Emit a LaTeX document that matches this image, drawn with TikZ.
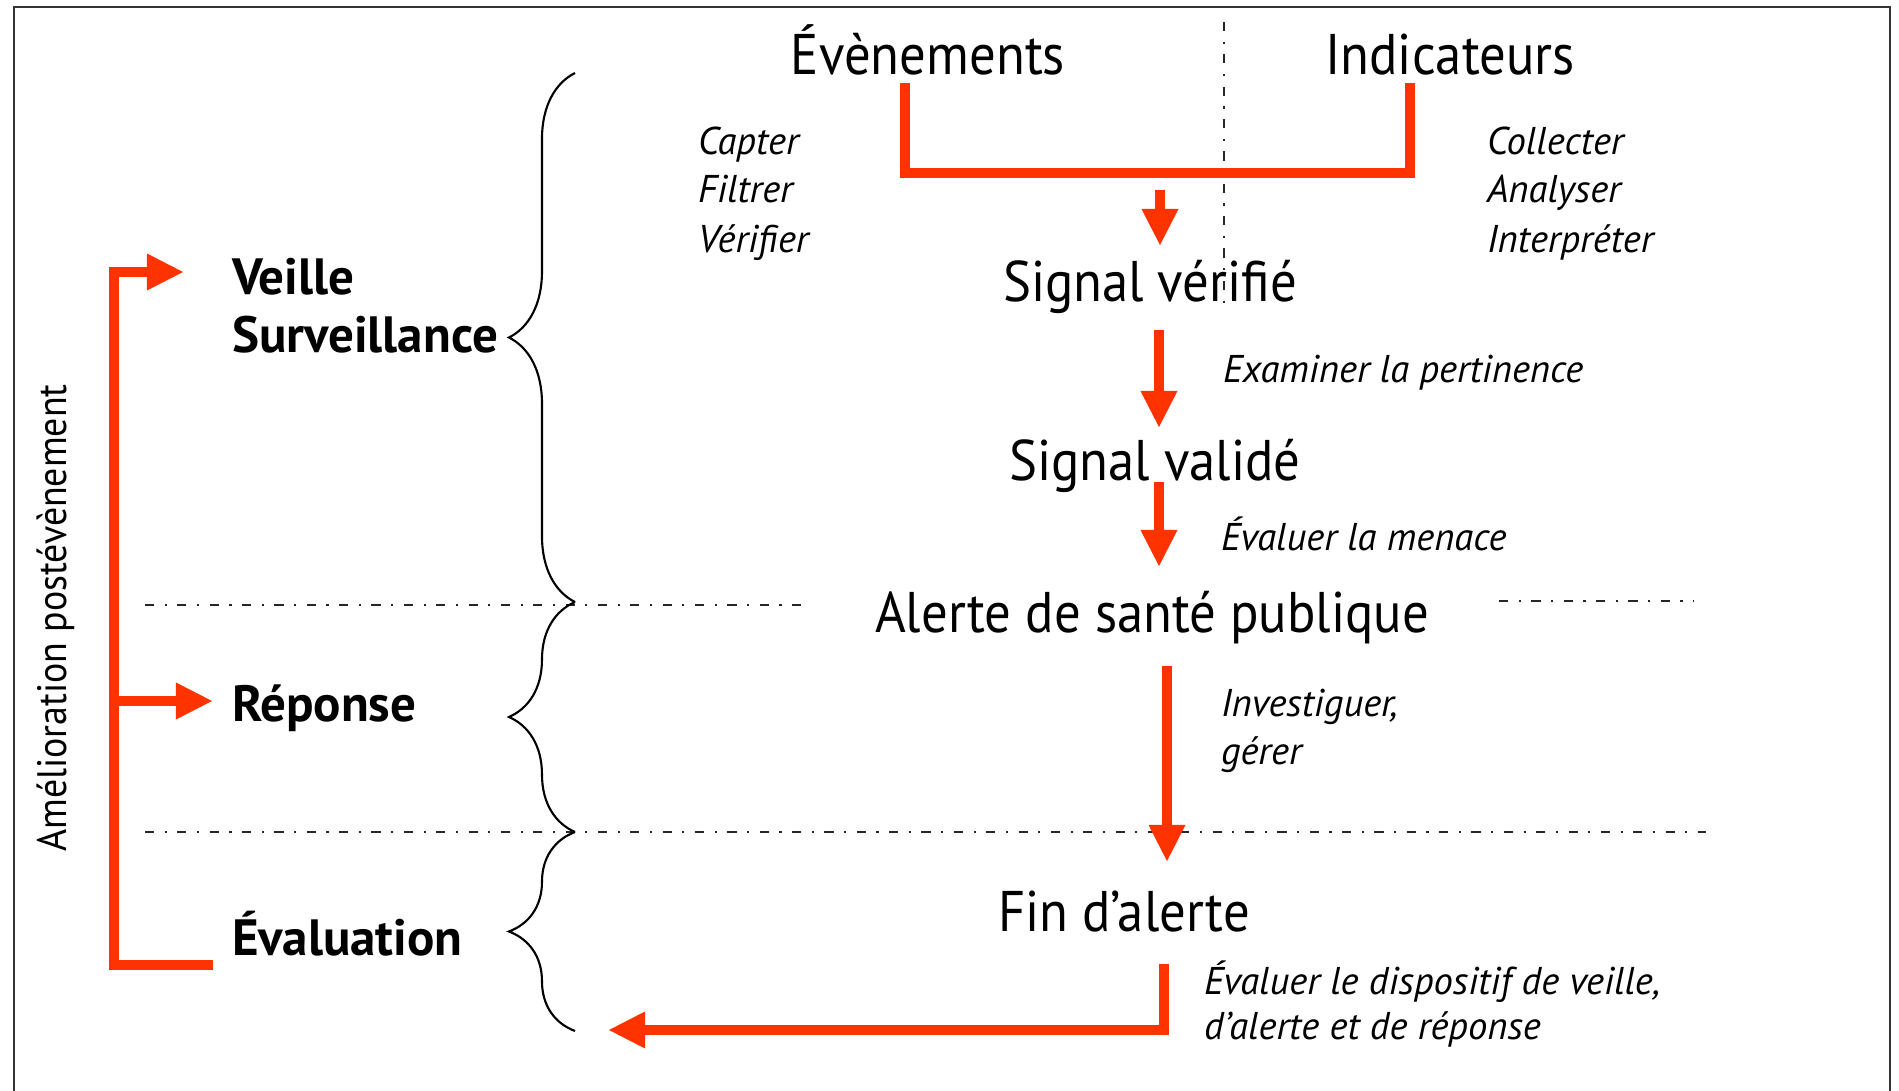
\documentclass[tikz,border=0pt]{standalone}
\usepackage{fontspec}
\setmainfont{PT Sans}
\newfontfamily\stagefont{PT Sans}[FakeStretch=0.92]
\usepackage{tikz}
\usetikzlibrary{arrows.meta,decorations.pathreplacing}
\definecolor{alertred}{RGB}{255,51,0}

\begin{document}
\begin{tikzpicture}[x=0.01cm, y=-0.01cm]
\tikzstyle{every node}=[inner sep=0pt, outer sep=0pt]
\tikzstyle{stage}=[font=\stagefont\fontsize{16.3}{19}\selectfont, anchor=base]
\tikzstyle{task}=[font=\fontsize{11}{13}\selectfont\itshape, anchor=base west]
\tikzstyle{phase}=[font=\fontsize{14.5}{17}\selectfont\bfseries, anchor=base west]
\tikzstyle{redline}=[alertred, line width=3pt]
\tikzstyle{redarrow}=[redline, -{Triangle[width=0.34cm,length=0.37cm]}]
\tikzstyle{sepline}=[black!85, line width=0.45pt,
                     dash pattern=on 2.6pt off 3pt on 0.6pt off 3pt]
\tikzstyle{phasebrace}=[black, line width=0.6pt, decorate,
                        decoration={brace, amplitude=0.66cm}]
\useasboundingbox (0,0) rectangle (1899,1091);
% cadre
\draw[gray!40!black, line width=0.7pt] (14,1091) -- (14,7) -- (1890,7) -- (1890,1091);
% separateurs
\draw[sepline] (145,605) -- (805,605);
\draw[sepline] (1499,601) -- (1694,601);
\draw[sepline] (145,832) -- (1706,832);
\draw[sepline] (1224,22) -- (1224,304);
% etapes
\node[stage] (evt) at (928,75) {Évènements};
\node[stage] (ind) at (1450,75) {Indicateurs};
\node[stage] (sverif) at (1150,302) {Signal vérifié};
\node[stage] (svalid) at (1155,480) {Signal validé};
\node[stage] (alerte) at (1152,632) {Alerte de santé publique};
\node[stage] (fin) at (1124,931) {Fin d’alerte};
% actions
\node[task] (capter) at (698,155) {Capter};
\node[task] (filtrer) at (698,203) {Filtrer};
\node[task] (verifier) at (698,253) {Vérifier};
\node[task] (collecter) at (1487,155) {Collecter};
\node[task] (analyser) at (1487,203) {Analyser};
\node[task] (interpreter) at (1487,253) {Interpréter};
\node[task] (examiner) at (1223,383) {Examiner la pertinence};
\node[task] (menace) at (1221,550) {Évaluer la menace};
\node[task] (invest) at (1221,716) {Investiguer,};
\node[task] (gerer) at (1221,764) {gérer};
\node[task] (dispo) at (1204,994) {Évaluer le dispositif de veille,};
\node[task] (dispob) at (1204,1039) {d’alerte et de réponse};
% phases
\node[phase] (veille) at (232,295) {Veille};
\node[phase] (surv) at (232,353) {Surveillance};
\node[phase] (rep) at (232,721) {Réponse};
\node[phase] (eval) at (232,955) {Évaluation};
\node[font=\stagefont\fontsize{11.7}{14}\selectfont, rotate=90, anchor=base] (amelio)
     at (66,618) {Amélioration postévènement};
% accolades
\draw[phasebrace] (575,602) -- (575,73);
\draw[phasebrace] (575,832) -- (575,602);
\draw[phasebrace] (575,1031) -- (575,832);
% fleches
\coordinate (evtleg) at (905,83);
\coordinate (indleg) at (1410,83);
\coordinate (bar) at (1160,173);
\draw[redline] (evtleg) -- (evtleg |- bar) -- (indleg |- bar) -- (indleg);
\coordinate (verifin) at (1160,246);
\draw[redarrow] (1160,190) -- (verifin);
\coordinate (validin) at (1159,428);
\draw[redarrow] (1159,330) -- (validin);
\coordinate (alertin) at (1159,567);
\draw[redarrow] (1159,482) -- (alertin);
\coordinate (finin) at (1167,862);
\draw[redarrow] (1167,666) -- (finin);
\coordinate (finout) at (1164,964);
\coordinate (retour) at (608,1030);
\draw[redarrow] (finout) |- (retour);
% boucle d'amelioration
\coordinate (loopstart) at (213,965);
\coordinate (loopcorner) at (114,272);
\coordinate (veillein) at (184,272);
\coordinate (repin) at (213,701);
\draw[redarrow] (loopstart) -| (loopcorner) -- (veillein);
\draw[redarrow] (loopcorner |- repin) -- (repin);
\end{tikzpicture}
\end{document}
